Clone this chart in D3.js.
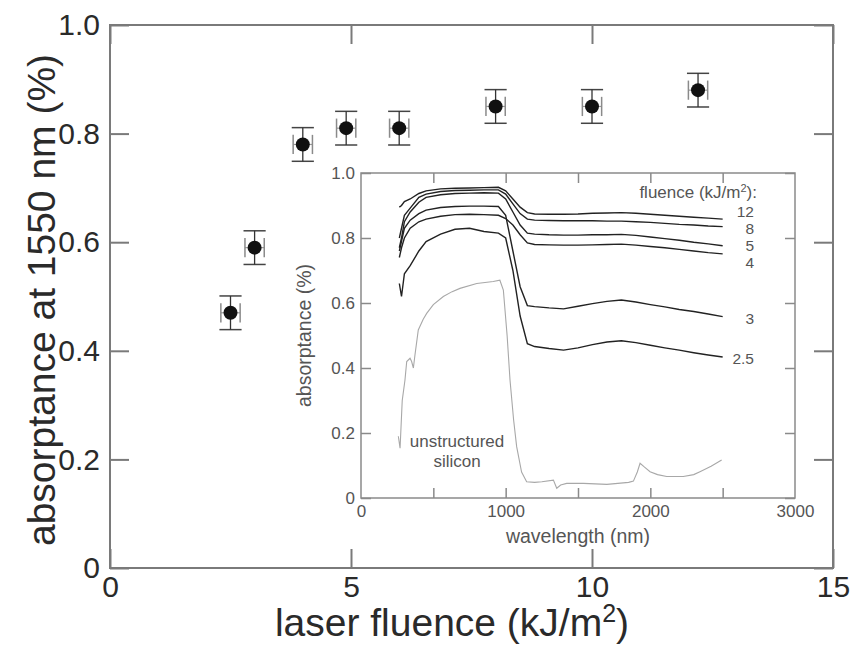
<!DOCTYPE html>
<html>
<head>
	<meta charset='utf-8'>
	<title>absorptance vs laser fluence</title>
	<style>
		body { margin: 0; background: #fff; }
		svg { font-family: 'Liberation Sans', Arial, sans-serif; }
		.frame { fill: none; stroke: #7a7a7a; stroke-width: 2; }
		.axis path.domain { display: none; }
		.axis line { stroke: #7a7a7a; stroke-width: 2; }
		.main-axis text { font-size: 30px; fill: #2a2a2a; }
		.title { font-size: 39px; fill: #2a2a2a; }
		.inset-frame { fill: none; stroke: #8a8a8a; stroke-width: 1.5; }
		.inset-axis line { stroke: #8a8a8a; stroke-width: 1.5; }
		.inset-axis text { font-size: 17px; fill: #555; }
		.inset-title { font-size: 19.5px; fill: #555; }
		.curve { fill: none; stroke: #222; stroke-width: 1.4; }
		.si { fill: none; stroke: #a8a8a8; stroke-width: 1.1; }
		.lab { font-size: 17px; fill: #555; }
		.num { font-size: 15.5px; fill: #555; }
	</style>
</head>
<body>
<script src='https://d3js.org/d3.v7.min.js'></script>
<script>
	'use strict';
	// main plot: absorptance at 1550 nm vs fluence
	const fluence = [2.5, 3, 4, 4.9, 6, 8, 10, 12.2];
	const absorb1550 = [0.47, 0.59, 0.78, 0.81, 0.81, 0.85, 0.85, 0.88];
	const errY = 0.031;
	const errX = 0.2;

	const yTicks = [0, 0.2, 0.4, 0.6, 0.8, 1.0];
	const xTicks = [0, 5, 10, 15];

	// inset spectra, one shared wavelength grid (nm)
	const wl = [265, 280, 300, 340, 400, 450, 550, 650, 750, 850, 950, 1000, 1050, 1100, 1150, 1200,
		1300, 1400, 1500, 1600, 1700, 1800, 1900, 2000, 2100, 2200, 2300, 2400, 2500];
	const f12 = [0.895, 0.90, 0.912, 0.92, 0.937, 0.945, 0.951, 0.953, 0.954, 0.955, 0.956, 0.945, 0.92, 0.895, 0.878, 0.874,
		0.873, 0.873, 0.874, 0.876, 0.877, 0.878, 0.876, 0.873, 0.870, 0.867, 0.864, 0.861, 0.858];
	const f8 = [0.80, 0.83, 0.87, 0.892, 0.925, 0.935, 0.943, 0.946, 0.947, 0.948, 0.948, 0.935, 0.905, 0.875, 0.858, 0.855,
		0.854, 0.853, 0.853, 0.853, 0.852, 0.852, 0.850, 0.848, 0.845, 0.842, 0.840, 0.837, 0.835];
	const f5 = [0.77, 0.80, 0.85, 0.88, 0.91, 0.925, 0.933, 0.937, 0.938, 0.939, 0.938, 0.92, 0.88, 0.84, 0.815, 0.812,
		0.810, 0.809, 0.809, 0.810, 0.810, 0.811, 0.808, 0.803, 0.798, 0.793, 0.787, 0.782, 0.776];
	const f4 = [0.74, 0.77, 0.80, 0.83, 0.85, 0.858, 0.867, 0.872, 0.873, 0.872, 0.870, 0.86, 0.84, 0.81, 0.785, 0.780,
		0.779, 0.778, 0.778, 0.779, 0.780, 0.781, 0.778, 0.774, 0.770, 0.765, 0.760, 0.755, 0.751];
	const f3 = [0.76, 0.79, 0.83, 0.855, 0.875, 0.886, 0.894, 0.897, 0.898, 0.898, 0.897, 0.87, 0.76, 0.65, 0.592, 0.589,
		0.585, 0.582, 0.590, 0.598, 0.605, 0.609, 0.603, 0.595, 0.588, 0.580, 0.574, 0.566, 0.558];
	const f25 = [0.66, 0.62, 0.69, 0.715, 0.76, 0.789, 0.812, 0.827, 0.83, 0.82, 0.815, 0.80, 0.70, 0.56, 0.475, 0.466,
		0.46, 0.455, 0.462, 0.472, 0.48, 0.484, 0.478, 0.47, 0.462, 0.455, 0.447, 0.44, 0.434];
	const curveNames = ['12', '8', '5', '4', '3', '2.5'];

	// unstructured silicon
	const siWl = [258, 270, 285, 304, 316, 339, 350, 362, 373, 396, 430, 454, 500, 569, 630, 684, 800, 914, 960, 984,
		1010, 1030, 1055, 1076, 1110, 1145, 1200, 1250, 1330, 1353, 1380, 1422, 1537, 1700, 1850, 1883, 1910, 1929,
		1960, 1998, 2050, 2113, 2228, 2300, 2343, 2420, 2493];
	const siAbs = [0.19, 0.153, 0.30, 0.363, 0.42, 0.43, 0.42, 0.40, 0.44, 0.517, 0.55, 0.568, 0.595, 0.62, 0.635, 0.645,
		0.66, 0.666, 0.67, 0.64, 0.50, 0.363, 0.24, 0.158, 0.08, 0.05, 0.048, 0.05, 0.055, 0.03, 0.04, 0.045, 0.045,
		0.042, 0.048, 0.052, 0.08, 0.107, 0.095, 0.081, 0.072, 0.066, 0.066, 0.072, 0.081, 0.098, 0.117];

	const insetXTicks = [0, 1000, 2000, 3000];
	const insetXMinor = [500, 1000, 1500, 2000, 2500];
	const insetYTicks = [0, 0.2, 0.4, 0.6, 0.8, 1.0];

	const W = 853, H = 647;
	const svg = d3.select('body').append('svg')
		.attr('width', W)
		.attr('height', H);

	const fmt = function(d) { return d === 0 ? '0' : d3.format('.1f')(d); };

	// ---- main plot ----
	const x = d3.scaleLinear().domain([0, 15]).range([110, 833]);
	const y = d3.scaleLinear().domain([0, 1]).range([568, 25]);

	svg.append('rect')
		.attr('class', 'frame')
		.attr('x', x(0)).attr('y', y(1))
		.attr('width', x(15) - x(0)).attr('height', y(0) - y(1));

	svg.append('g')
		.attr('class', 'axis main-axis')
		.attr('transform', 'translate(' + x(0) + ',0)')
		.call(d3.axisLeft(y).tickValues(yTicks).tickFormat(fmt).tickSize(-19).tickPadding(10));
	svg.append('g')
		.attr('class', 'axis main-axis')
		.attr('transform', 'translate(' + x(15) + ',0)')
		.call(d3.axisRight(y).tickValues(yTicks).tickFormat('').tickSize(-19));
	svg.append('g')
		.attr('class', 'axis main-axis')
		.attr('transform', 'translate(0,' + y(0) + ')')
		.call(d3.axisBottom(x).tickValues(xTicks).tickFormat(d3.format('d')).tickSize(-19).tickPadding(8));
	svg.append('g')
		.attr('class', 'axis main-axis')
		.attr('transform', 'translate(0,' + y(1) + ')')
		.call(d3.axisTop(x).tickValues(xTicks).tickFormat('').tickSize(-19));

	// titles
	const xt = svg.append('text')
		.attr('class', 'title')
		.attr('x', 452).attr('y', 636)
		.attr('text-anchor', 'middle');
	xt.append('tspan').text('laser fluence (kJ/m');
	xt.append('tspan').attr('dy', -14).attr('font-size', '25px').text('2');
	xt.append('tspan').attr('dy', 14).text(')');

	svg.append('text')
		.attr('class', 'title')
		.attr('transform', 'translate(55,300) rotate(-90)')
		.attr('text-anchor', 'middle')
		.text('absorptance at 1550 nm (%)');

	// error bars + points
	const pts = fluence.map(function(f, i) { return {f: f, a: absorb1550[i]}; });
	const eb = svg.append('g').selectAll('g').data(pts).enter().append('g');
	eb.append('line')
		.attr('x1', function(d) { return x(d.f - errX); })
		.attr('x2', function(d) { return x(d.f + errX); })
		.attr('y1', function(d) { return y(d.a); })
		.attr('y2', function(d) { return y(d.a); })
		.attr('stroke', '#999').attr('stroke-width', 1.2);
	[-1, 1].forEach(function(s) {
		eb.append('line')
			.attr('x1', function(d) { return x(d.f + s * errX); })
			.attr('x2', function(d) { return x(d.f + s * errX); })
			.attr('y1', function(d) { return y(d.a + errY * 0.57); })
			.attr('y2', function(d) { return y(d.a - errY * 0.57); })
			.attr('stroke', '#8a8a8a').attr('stroke-width', 1.5);
		eb.append('line')
			.attr('x1', function(d) { return x(d.f - errX * 1.15); })
			.attr('x2', function(d) { return x(d.f + errX * 1.15); })
			.attr('y1', function(d) { return y(d.a + s * errY); })
			.attr('y2', function(d) { return y(d.a + s * errY); })
			.attr('stroke', '#444').attr('stroke-width', 1.5);
	});
	eb.append('line')
		.attr('x1', function(d) { return x(d.f); })
		.attr('x2', function(d) { return x(d.f); })
		.attr('y1', function(d) { return y(d.a + errY); })
		.attr('y2', function(d) { return y(d.a - errY); })
		.attr('stroke', '#333').attr('stroke-width', 1.3);
	eb.append('circle')
		.attr('cx', function(d) { return x(d.f); })
		.attr('cy', function(d) { return y(d.a); })
		.attr('r', 7)
		.attr('fill', '#111');

	// ---- inset ----
	const ix = d3.scaleLinear().domain([0, 3000]).range([361, 795]);
	const iy = d3.scaleLinear().domain([0, 1]).range([498, 173]);

	svg.append('rect')
		.attr('class', 'inset-frame')
		.attr('x', ix(0)).attr('y', iy(1))
		.attr('width', ix(3000) - ix(0)).attr('height', iy(0) - iy(1));

	svg.append('g')
		.attr('class', 'axis inset-axis')
		.attr('transform', 'translate(' + ix(0) + ',0)')
		.call(d3.axisLeft(iy).tickValues(insetYTicks).tickFormat(fmt).tickSize(-10).tickPadding(6));
	svg.append('g')
		.attr('class', 'axis inset-axis')
		.attr('transform', 'translate(' + ix(3000) + ',0)')
		.call(d3.axisRight(iy).tickValues(insetYTicks).tickFormat('').tickSize(-10));
	svg.append('g')
		.attr('class', 'axis inset-axis')
		.attr('transform', 'translate(0,' + iy(0) + ')')
		.call(d3.axisBottom(ix).tickValues(insetXMinor).tickFormat('').tickSize(-10));
	svg.append('g')
		.attr('class', 'axis inset-axis')
		.attr('transform', 'translate(0,' + iy(0) + ')')
		.call(d3.axisBottom(ix).tickValues(insetXTicks).tickFormat(d3.format('d')).tickSize(0).tickPadding(7));
	svg.append('g')
		.attr('class', 'axis inset-axis')
		.attr('transform', 'translate(0,' + iy(1) + ')')
		.call(d3.axisTop(ix).tickValues(insetXMinor).tickFormat('').tickSize(-10));

	svg.append('text')
		.attr('class', 'inset-title')
		.attr('x', (ix(0) + ix(3000)) / 2).attr('y', 543)
		.attr('text-anchor', 'middle')
		.text('wavelength (nm)');
	svg.append('text')
		.attr('class', 'inset-title')
		.attr('transform', 'translate(311,' + ((iy(0) + iy(1)) / 2) + ') rotate(-90)')
		.attr('text-anchor', 'middle')
		.text('absorptance (%)');

	const line = d3.line()
		.x(function(d) { return ix(d[0]); })
		.y(function(d) { return iy(d[1]); });

	const series = [f12, f8, f5, f4, f3, f25];
	svg.append('g').selectAll('path')
		.data(series)
		.enter()
		.append('path')
		.attr('class', 'curve')
		.attr('stroke-width', function(d, i) { return i === 0 ? 2 : 1.4; })
		.attr('d', function(vals) { return line(wl.map(function(w, j) { return [w, vals[j]]; })); });

	svg.append('path')
		.attr('class', 'si')
		.attr('d', line(siWl.map(function(w, j) { return [w, siAbs[j]]; })));

	// curve labels
	const labelY = [211, 228, 245, 262, 318, 358];
	svg.append('g').selectAll('text')
		.data(curveNames)
		.enter()
		.append('text')
		.attr('class', 'num')
		.attr('x', 754)
		.attr('y', function(d, i) { return labelY[i] + 5.5; })
		.attr('text-anchor', 'end')
		.text(function(d) { return d; });

	const fl = svg.append('text')
		.attr('class', 'lab')
		.attr('x', 757).attr('y', 198)
		.attr('text-anchor', 'end')
		.attr('font-size', '16px');
	fl.append('tspan').text('fluence (kJ/m');
	fl.append('tspan').attr('dy', -6).attr('font-size', '11px').text('2');
	fl.append('tspan').attr('dy', 6).text('):');

	svg.append('text').attr('class', 'lab')
		.attr('x', 457).attr('y', 447).attr('text-anchor', 'middle')
		.text('unstructured');
	svg.append('text').attr('class', 'lab')
		.attr('x', 457).attr('y', 467).attr('text-anchor', 'middle')
		.text('silicon');
</script>
</body>
</html>
